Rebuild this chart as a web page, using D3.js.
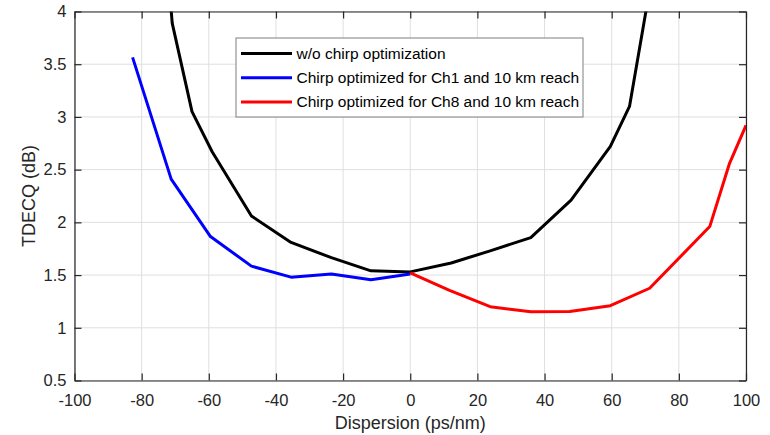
<!DOCTYPE html>
<html>
<head>
<meta charset="utf-8">
<script src="https://cdn.jsdelivr.net/npm/d3@7"></script>
<style>
  body { margin: 0; background: #fff; }
  svg { font-family: "Liberation Sans", Arial, sans-serif; }
</style>
</head>
<body>
<svg id="chart" width="770" height="435"></svg>
<script>
var width = 770,
  height = 435;

// dispersion (ps/nm) and TDECQ (dB)
const noChirpX = [-77, -70.9, -65, -59, -47.3, -35.5, -23.5, -11.7, 0, 12.2, 23.8, 35.9, 47.9, 59.6, 65.3, 71];
const noChirpY = [6.3, 3.89, 3.05, 2.67, 2.06, 1.81, 1.665, 1.54, 1.53, 1.615, 1.73, 1.855, 2.21, 2.72, 3.1, 4.15];

const ch1X = [-82.7, -71.2, -59.5, -47.3, -35.5, -23.5, -11.7, 0];
const ch1Y = [3.565, 2.41, 1.865, 1.585, 1.48, 1.51, 1.455, 1.51];

const ch8X = [0, 11.7, 23.8, 35.9, 47.5, 59.6, 71.3, 89.2, 95.1, 100];
const ch8Y = [1.52, 1.355, 1.2, 1.152, 1.155, 1.21, 1.375, 1.96, 2.56, 2.92];

const xTicks = [-100, -80, -60, -40, -20, 0, 20, 40, 60, 80, 100];
const yTicks = [0.5, 1, 1.5, 2, 2.5, 3, 3.5, 4];

const seriesNames = [
  "w/o chirp optimization",
  "Chirp optimized for Ch1 and 10 km reach",
  "Chirp optimized for Ch8 and 10 km reach"
];
const seriesColours = ["#000000", "#0000ff", "#ff0000"];

const margin = { left: 74.5, right: 24, top: 11.5, bottom: 54.5 };
const axisColour = "#262626";

const svg = d3.select("#chart");

const x = d3
  .scaleLinear()
  .domain([-100, 100])
  .range([margin.left, width - margin.right]);

const y = d3
  .scaleLinear()
  .domain([0.5, 4])
  .range([height - margin.bottom, margin.top]);

// plain hyphen minus, no trailing zeros (as in the MATLAB figure)
const fmt = (d) => String(d);

// grid
const grid = svg.append("g").attr("class", "grid");
grid
  .selectAll("line.gx")
  .data(xTicks)
  .join("line")
  .attr("class", "gx")
  .attr("x1", (d) => x(d))
  .attr("x2", (d) => x(d))
  .attr("y1", y(0.5))
  .attr("y2", y(4))
  .attr("stroke", "#dfdfdf")
  .attr("stroke-width", 1);
grid
  .selectAll("line.gy")
  .data(yTicks)
  .join("line")
  .attr("class", "gy")
  .attr("x1", x(-100))
  .attr("x2", x(100))
  .attr("y1", (d) => y(d))
  .attr("y2", (d) => y(d))
  .attr("stroke", "#dfdfdf")
  .attr("stroke-width", 1);

// clip for curves
svg
  .append("clipPath")
  .attr("id", "plotClip")
  .append("rect")
  .attr("x", x(-100))
  .attr("y", y(4))
  .attr("width", x(100) - x(-100))
  .attr("height", y(0.5) - y(4));

const line = d3
  .line()
  .x((d) => x(d[0]))
  .y((d) => y(d[1]));

const series = [
  d3.zip(noChirpX, noChirpY),
  d3.zip(ch1X, ch1Y),
  d3.zip(ch8X, ch8Y)
];

svg
  .append("g")
  .attr("clip-path", "url(#plotClip)")
  .selectAll("path")
  .data(series)
  .join("path")
  .attr("d", line)
  .attr("fill", "none")
  .attr("stroke", (d, i) => seriesColours[i])
  .attr("stroke-width", 3)
  .attr("stroke-linejoin", "round");

// axes, MATLAB style box with inner ticks
const tickLen = 7;
function styleAxis(g) {
  g.select(".domain").attr("stroke", axisColour).attr("stroke-width", 1.2);
  g.selectAll(".tick line").attr("stroke", axisColour).attr("stroke-width", 1.2);
  g.selectAll(".tick text")
    .attr("fill", axisColour)
    .attr("font-size", "16.5px");
}

svg
  .append("g")
  .attr("transform", `translate(0,${y(0.5)})`)
  .call(
    d3.axisBottom(x).tickValues(xTicks).tickFormat(fmt).tickSizeInner(-tickLen).tickSizeOuter(0).tickPadding(14)
  )
  .call(styleAxis);

svg
  .append("g")
  .attr("transform", `translate(0,${y(4)})`)
  .call(
    d3.axisTop(x).tickValues(xTicks).tickSizeInner(-tickLen).tickSizeOuter(0).tickFormat("")
  )
  .call(styleAxis);

svg
  .append("g")
  .attr("transform", `translate(${x(-100)},0)`)
  .call(
    d3.axisLeft(y).tickValues(yTicks).tickFormat(fmt).tickSizeInner(-tickLen).tickSizeOuter(0).tickPadding(8)
  )
  .call(styleAxis);

svg
  .append("g")
  .attr("transform", `translate(${x(100)},0)`)
  .call(
    d3.axisRight(y).tickValues(yTicks).tickSizeInner(-tickLen).tickSizeOuter(0).tickFormat("")
  )
  .call(styleAxis);

// axis labels
svg
  .append("text")
  .attr("x", (x(-100) + x(100)) / 2)
  .attr("y", 429)
  .attr("text-anchor", "middle")
  .attr("font-size", "18px")
  .attr("fill", axisColour)
  .text("Dispersion (ps/nm)");

svg
  .append("text")
  .attr("transform", `translate(35,${(y(0.5) + y(4)) / 2}) rotate(-90)`)
  .attr("text-anchor", "middle")
  .attr("font-size", "18px")
  .attr("fill", axisColour)
  .text("TDECQ (dB)");

// legend
const legend = svg.append("g").attr("transform", "translate(236,38)");
legend
  .append("rect")
  .attr("width", 347)
  .attr("height", 79)
  .attr("fill", "#fff")
  .attr("stroke", "#7f7f7f")
  .attr("stroke-width", 1);

const items = legend
  .selectAll("g.item")
  .data(seriesNames)
  .join("g")
  .attr("class", "item")
  .attr("transform", (d, i) => `translate(0,${15.5 + i * 24.2})`);

items
  .append("line")
  .attr("x1", 5)
  .attr("x2", 56)
  .attr("stroke", (d, i) => seriesColours[i])
  .attr("stroke-width", 3);

items
  .append("text")
  .attr("x", 60.5)
  .attr("dy", "0.35em")
  .attr("font-size", "15.5px")
  .attr("fill", "#000")
  .text((d) => d);
</script>
</body>
</html>
